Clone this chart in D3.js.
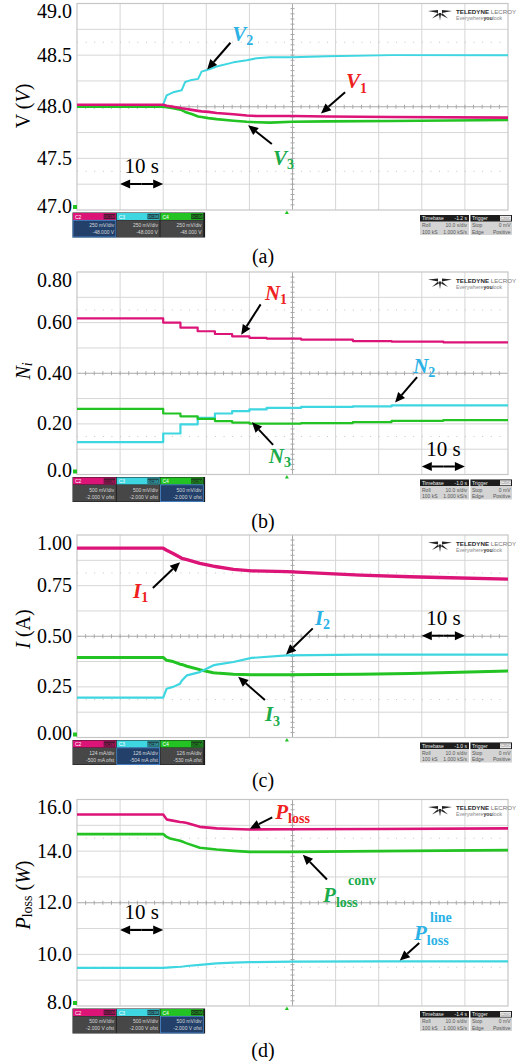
<!DOCTYPE html>
<html><head><meta charset="utf-8">
<script src="https://cdn.jsdelivr.net/npm/d3@7"></script>
<style>
body{margin:0;background:#fff}
svg{display:block}
</style>
</head><body><script>
// ---------------- data ----------------
// time axis: 10 s/div, 10 divisions
const timeDomain = [0, 100];
const gridTimes = [10, 20, 30, 40, 50, 60, 70, 80, 90];

// (a) bus voltages
const vTime = [0, 20, 20.8, 22.3, 24.3, 25.1, 26.6, 28.1, 28.9, 30.5, 32.4, 36.3, 39.4, 41.7, 44.8, 50, 58, 73, 100];
const V1 = [48.02, 48.02, 48.01, 48.0, 47.985, 47.98, 47.97, 47.96, 47.955, 47.95, 47.94, 47.927, 47.915, 47.91, 47.91, 47.91, 47.905, 47.9, 47.895];
const V2 = [48.005, 48.02, 48.11, 48.14, 48.16, 48.24, 48.26, 48.27, 48.34, 48.36, 48.39, 48.43, 48.45, 48.47, 48.48, 48.48, 48.49, 48.5, 48.5];
const V3 = [48.0, 48.0, 47.995, 47.985, 47.968, 47.95, 47.93, 47.905, 47.9, 47.89, 47.88, 47.865, 47.855, 47.85, 47.846, 47.855, 47.858, 47.862, 47.872];
const vTicks = [47, 47.5, 48, 48.5, 49];
const vTickLabels = ["47.0", "47.5", "48.0", "48.5", "49.0"];

// (b) sharing coefficients (stepwise)
const nTime = [0, 20, 24, 28, 32, 36, 40, 44, 52, 64, 73, 85, 100];
const N1 = [0.617, 0.600, 0.580, 0.566, 0.555, 0.546, 0.540, 0.537, 0.533, 0.527, 0.525, 0.522, 0.520];
const N2 = [0.128, 0.162, 0.198, 0.224, 0.241, 0.250, 0.257, 0.263, 0.267, 0.269, 0.273, 0.273, 0.273];
const N3 = [0.259, 0.241, 0.230, 0.220, 0.211, 0.205, 0.201, 0.201, 0.203, 0.207, 0.212, 0.215, 0.216];
const nTicks = [0, 0.2, 0.4, 0.6, 0.8];
const nTickLabels = ["0.0", "0.20", "0.40", "0.60", "0.80"];

// (c) currents
const iTime = [0, 20, 20.8, 22.3, 23.9, 24.3, 25.5, 28.5, 31.6, 32.4, 36.3, 40.5, 48.7, 65.7, 77.3, 84.2, 100];
const I1 = [0.935, 0.935, 0.925, 0.909, 0.89, 0.885, 0.878, 0.86, 0.846, 0.843, 0.83, 0.823, 0.819, 0.802, 0.794, 0.79, 0.782];
const I2 = [0.197, 0.197, 0.241, 0.25, 0.266, 0.28, 0.307, 0.323, 0.356, 0.36, 0.373, 0.393, 0.406, 0.409, 0.409, 0.409, 0.409];
const I3 = [0.395, 0.395, 0.381, 0.375, 0.362, 0.361, 0.352, 0.335, 0.32, 0.318, 0.312, 0.31, 0.31, 0.312, 0.316, 0.32, 0.328];
const iTicks = [0, 0.25, 0.5, 0.75, 1.0];
const iTickLabels = ["0.00", "0.25", "0.50", "0.75", "1.00"];

// (d) losses
const pTime = [0, 20, 20.8, 21.6, 23.9, 24.6, 25.5, 28.5, 32.4, 36.3, 40.1, 50, 70, 100];
const Ploss = [15.42, 15.42, 15.23, 15.2, 15.13, 15.12, 15.09, 14.94, 14.88, 14.86, 14.84, 14.85, 14.86, 14.88];
const Pconv = [14.66, 14.66, 14.55, 14.49, 14.4, 14.36, 14.3, 14.13, 14.06, 14.01, 13.97, 13.97, 14.0, 14.04];
const Pline = [9.48, 9.48, 9.49, 9.5, 9.52, 9.53, 9.55, 9.59, 9.65, 9.68, 9.70, 9.72, 9.73, 9.73];
const pTicks = [8, 10, 12, 14, 16];
const pTickLabels = ["8.0", "10.0", "12.0", "14.0", "16.0"];

// scope channel info
const chNames = ["C2", "C3", "C4"];
const chInfoA = [["250 mV/div", "-48.000 V"], ["250 mV/div", "-48.000 V"], ["250 mV/div", "-48.000 V"]];
const chInfoB = [["500 mV/div", "-2.000 V ofst"], ["500 mV/div", "-2.000 V ofst"], ["500 mV/div", "-2.000 V ofst"]];
const chInfoC = [["124 mA/div", "-500 mA ofst"], ["126 mA/div", "-504 mA ofst"], ["126 mA/div", "-530 mA ofst"]];
const chInfoD = [["500 mV/div", "-2.000 V ofst"], ["500 mV/div", "-2.000 V ofst"], ["500 mV/div", "-2.000 V ofst"]];
const timebaseVals = ["-1.2 s", "-1.0 s", "-1.0 s", "-1.4 s"];
const captions = ["(a)", "(b)", "(c)", "(d)"];

// ---------------- style ----------------
const MAG = "#dc1478", CYA = "#3ed6e0", GRN = "#22c322";
const RED = "#ee2020", BLU = "#2ab2e6", LGR = "#1aab4b";
const SERIF = '"Liberation Serif","Times New Roman",serif';
const SANS = '"Liberation Sans",Arial,sans-serif';

const W = 521, H = 1061;
const svg = d3.select("body").append("svg").attr("width", W).attr("height", H).attr("font-family", SERIF);
const x = d3.scaleLinear().domain(timeDomain).range([77, 508]);
const L = x(timeDomain[0]), R = x(timeDomain[1]);

const defs = svg.append("defs");

function arrow(g, x1, y1, x2, y2) {
  const ang = Math.atan2(y2 - y1, x2 - x1), hl = 10, hw = 4.5;
  const bx = x2 - hl * Math.cos(ang), by = y2 - hl * Math.sin(ang);
  g.append("line").attr("x1", x1).attr("y1", y1).attr("x2", bx).attr("y2", by)
    .attr("stroke", "#000").attr("stroke-width", 2);
  const px = -Math.sin(ang) * hw, py = Math.cos(ang) * hw;
  g.append("path").attr("d", `M${x2},${y2}L${bx + px},${by + py}L${bx - px},${by - py}Z`).attr("fill", "#000");
}
function dblArrow(g, x1, x2, yy) {
  const mid = (x1 + x2) / 2;
  arrow(g, mid, yy, x1, yy);
  arrow(g, mid, yy, x2, yy);
}

function panel(cfg, idx) {
  const y = d3.scaleLinear().domain(cfg.domain).range([cfg.bottom, cfg.top]);
  const T = cfg.top, B = cfg.bottom;
  const divH = (B - T) / 8, divW = (R - L) / 10;
  const g = svg.append("g");

  // grid
  const grid = g.append("g");
  gridTimes.filter(t => t !== 50).forEach(t => {
    grid.append("line").attr("x1", x(t)).attr("x2", x(t)).attr("y1", T).attr("y2", B)
      .attr("stroke", "#d6d6d6").attr("stroke-width", 1);
  });
  d3.range(1, 8).filter(j => j !== 4).forEach(j => {
    grid.append("line").attr("x1", L).attr("x2", R).attr("y1", T + j * divH).attr("y2", T + j * divH)
      .attr("stroke", "#d6d6d6").attr("stroke-width", 1);
  });
  [1.5, 6.5].forEach(j => {
    grid.append("line").attr("x1", L).attr("x2", R).attr("y1", T + j * divH).attr("y2", T + j * divH)
      .attr("stroke", "#c4c4c4").attr("stroke-width", 1).attr("stroke-dasharray", `1,${divW / 5 - 1}`);
  });
  // center cross with minor ticks
  const cx = x(50), cy = T + 4 * divH;
  grid.append("line").attr("x1", cx).attr("x2", cx).attr("y1", T).attr("y2", B).attr("stroke", "#a8a8a8");
  grid.append("line").attr("x1", L).attr("x2", R).attr("y1", cy).attr("y2", cy).attr("stroke", "#a8a8a8");
  d3.range(1, 50).forEach(k => {
    const xx = L + k * divW / 5;
    grid.append("line").attr("x1", xx).attr("x2", xx).attr("y1", cy - 2).attr("y2", cy + 2).attr("stroke", "#a8a8a8");
  });
  d3.range(1, 40).forEach(k => {
    const yy = T + k * divH / 5;
    grid.append("line").attr("x1", cx - 2).attr("x2", cx + 2).attr("y1", yy).attr("y2", yy).attr("stroke", "#a8a8a8");
  });
  grid.append("rect").attr("x", L).attr("y", T).attr("width", R - L).attr("height", B - T)
    .attr("fill", "none").attr("stroke", "#c6c6c6").attr("stroke-width", 1.2);

  // traces
  const clipId = "clip" + idx;
  defs.append("clipPath").attr("id", clipId).append("rect").attr("x", L).attr("y", T).attr("width", R - L).attr("height", B - T);
  const tg = g.append("g").attr("clip-path", `url(#${clipId})`);
  cfg.series.forEach(s => {
    const line = d3.line().x((d, i) => x(s.t[i])).y(d => y(d)).curve(s.curve || d3.curveLinear);
    tg.append("path").attr("d", line(s.v)).attr("fill", "none").attr("stroke", s.color)
      .attr("stroke-width", s.w || 2.4).attr("stroke-linejoin", "round");
  });

  // ground marker (left) and trigger marker (bottom)
  g.append("rect").attr("x", L - 4).attr("y", B - 5).attr("width", 4).attr("height", 4).attr("fill", GRN);
  const tx = x(48.7);
  g.append("path").attr("d", `M${tx},${B + 0.5}L${tx - 2},${B + 4}L${tx + 2},${B + 4}Z`).attr("fill", GRN);

  // y axis
  const ax = d3.axisLeft(y).tickValues(cfg.ticks).tickFormat((d, i) => cfg.tickLabels[i]).tickSize(0).tickPadding(5);
  const ag = g.append("g").attr("transform", `translate(${L},0)`).call(ax);
  ag.select(".domain").remove();
  ag.attr("font-family", SERIF);
  ag.selectAll(".tick").attr("transform", d => `translate(0,${Math.min(Math.max(y(d), T + 8.5), B - 3.5)})`);
  ag.selectAll("text").attr("font-size", 20).attr("font-family", SERIF).attr("fill", "#000");

  // y label
  const yl = g.append("text").attr("transform", `translate(23,${cfg.ylabelY}) rotate(-90)`)
    .attr("text-anchor", "middle").attr("dominant-baseline", "central").attr("font-size", 20).attr("fill", "#000");
  cfg.ylabel(yl);

  // series labels + arrows
  cfg.labels.forEach(lb => {
    const px = x(lb.at[0]), py = y(lb.at[1]);
    const t = g.append("text").attr("x", px).attr("y", py).attr("fill", lb.color)
      .attr("font-weight", "bold").attr("font-size", 21);
    t.append("tspan").attr("font-style", "italic").text(lb.main);
    t.append("tspan").attr("font-size", 14).attr("dy", 4.5).text(lb.sub);
    if (lb.sup) {
      g.append("text").attr("x", px + lb.sup[1]).attr("y", py + lb.sup[2]).attr("fill", lb.color)
        .attr("font-weight", "bold").attr("font-size", 14).text(lb.sup[0]);
    }
    arrow(g, x(lb.from[0]), y(lb.from[1]), x(lb.to[0]), y(lb.to[1]));
  });

  // 10 s marker
  const tsY = cfg.tenS.y;
  g.append("text").attr("x", x(cfg.tenS.t0 + 5)).attr("y", tsY - 11).attr("text-anchor", "middle")
    .attr("font-size", 21).attr("fill", "#000").text("10 s");
  dblArrow(g, x(cfg.tenS.t0), x(cfg.tenS.t0 + 10), tsY);

  // channel boxes
  const cb = g.append("g").attr("font-family", SANS);
  const cols = [MAG, CYA, GRN];
  const bw = 43.7, by0 = B + 3;
  cb.append("rect").attr("x", 72.5).attr("y", by0 - 0.5).attr("width", 3 * bw + 1.5).attr("height", 25).attr("fill", "#1b1b1b");
  cfg.chInfo.forEach((info, i) => {
    const bx = 73 + i * bw;
    const hi = i === cfg.active;
    cb.append("rect").attr("x", bx).attr("y", by0).attr("width", bw - 0.8).attr("height", 7).attr("fill", cols[i]);
    cb.append("rect").attr("x", bx + bw - 13).attr("y", by0 + 0.8).attr("width", 11.5).attr("height", 5.4).attr("fill", "#1a1a1a").attr("opacity", 0.75);
    cb.append("text").attr("x", bx + 2).attr("y", by0 + 5.5).attr("font-size", 5).attr("fill", "#fff").text(chNames[i]);
    cb.append("text").attr("x", bx + bw - 7.3).attr("y", by0 + 5.3).attr("font-size", 3.8).attr("text-anchor", "middle").attr("fill", cols[i]).text("DC1M");
    cb.append("rect").attr("x", bx).attr("y", by0 + 7.3).attr("width", bw - 0.8).attr("height", 16.7)
      .attr("fill", hi ? "#22406a" : "#474747").attr("stroke", hi ? "#4d8fd6" : "none").attr("stroke-width", 0.8);
    cb.append("text").attr("x", bx + bw - 2.5).attr("y", by0 + 14).attr("font-size", 5).attr("text-anchor", "end").attr("fill", "#d8d8d8").text(info[0]);
    cb.append("text").attr("x", bx + bw - 2.5).attr("y", by0 + 21).attr("font-size", 5).attr("text-anchor", "end").attr("fill", "#d8d8d8").text(info[1]);
  });

  // timebase / trigger box
  const tb = g.append("g").attr("font-family", SANS).attr("font-size", 5);
  const ty0 = B + 5;
  tb.append("rect").attr("x", 420).attr("y", ty0).attr("width", 49).attr("height", 20).attr("fill", "#d4d4d4");
  tb.append("rect").attr("x", 420).attr("y", ty0).attr("width", 49).attr("height", 6.5).attr("fill", "#1d1d1d");
  tb.append("rect").attr("x", 470.5).attr("y", ty0).attr("width", 41.5).attr("height", 20).attr("fill", "#d4d4d4");
  tb.append("rect").attr("x", 470.5).attr("y", ty0).attr("width", 41.5).attr("height", 6.5).attr("fill", "#1d1d1d");
  tb.append("rect").attr("x", 500).attr("y", ty0 + 0.8).attr("width", 11).attr("height", 5).attr("fill", "#e8e8e8");
  tb.append("text").attr("x", 422).attr("y", ty0 + 5).attr("fill", "#eee").text("Timebase");
  tb.append("text").attr("x", 467).attr("y", ty0 + 5).attr("text-anchor", "end").attr("fill", "#eee").text(cfg.timebase);
  tb.append("text").attr("x", 472).attr("y", ty0 + 5).attr("fill", "#eee").text("Trigger");
  tb.append("text").attr("x", 505.5).attr("y", ty0 + 4.8).attr("text-anchor", "middle").attr("font-size", 3.8).attr("fill", "#777").text("C2DC");
  [["Roll", "10.0 s/div", "Stop", "0 mV"], ["100 kS", "1.000 kS/s", "Edge", "Positive"]].forEach((r, k) => {
    const yy = ty0 + 12 + k * 6.5;
    tb.append("text").attr("x", 422).attr("y", yy).attr("fill", "#555").text(r[0]);
    tb.append("text").attr("x", 467).attr("y", yy).attr("text-anchor", "end").attr("fill", "#555").text(r[1]);
    tb.append("text").attr("x", 472).attr("y", yy).attr("fill", "#555").text(r[2]);
    tb.append("text").attr("x", 510.5).attr("y", yy).attr("text-anchor", "end").attr("fill", "#555").text(r[3]);
  });

  // Teledyne LeCroy logo
  const lg = g.append("g").attr("transform", `translate(428,${T + 5})`);
  [[[0, 2.5], [10, 1.5], [10, 4.5]], [[24, 2.5], [14, 1.5], [14, 4.5]], [[4, 10], [10, 4.5], [11, 6.5]],
   [[20, 10], [14, 4.5], [13, 6.5]], [[10.8, 4.5], [13.2, 4.5], [12, 12]]].forEach(p => {
    lg.append("path").attr("d", "M" + p.map(q => q.join(",")).join("L") + "Z").attr("fill", "#222");
  });
  lg.append("text").attr("x", 28).attr("y", 5.5).attr("font-family", SANS).attr("font-size", 6.2).attr("font-weight", "bold").attr("fill", "#2a2a2a")
    .text("TELEDYNE").append("tspan").attr("font-weight", "normal").attr("fill", "#777").text(" LECROY");
  const ev = lg.append("text").attr("x", 28).attr("y", 11.5).attr("font-family", SANS).attr("font-size", 5.2).attr("fill", "#888");
  ev.append("tspan").text("Everywhere");
  ev.append("tspan").attr("font-weight", "bold").attr("fill", "#333").text("you");
  ev.append("tspan").text("look");

  // caption
  g.append("text").attr("x", 263).attr("y", B + cfg.capDy).attr("text-anchor", "middle")
    .attr("dominant-baseline", "central").attr("font-size", 20).attr("fill", "#000").text(captions[idx]);
}

const panels = [
  {
    top: 3.5, bottom: 210, domain: [47, 49], ticks: vTicks, tickLabels: vTickLabels, ylabelY: 106,
    ylabel: t => { t.append("tspan").text("V ("); t.append("tspan").attr("font-style", "italic").text("V"); t.append("tspan").text(")"); },
    series: [
      { t: vTime, v: V2, color: CYA, w: 2.0 },
      { t: vTime, v: V3, color: GRN, w: 2.6 },
      { t: vTime, v: V1, color: MAG, w: 2.6 }
    ],
    labels: [
      { main: "V", sub: "2", color: BLU, at: [36, 48.64], from: [35.6, 48.62], to: [30.2, 48.36] },
      { main: "V", sub: "1", color: RED, at: [62.4, 48.18], from: [62.2, 48.14], to: [56.6, 47.935] },
      { main: "V", sub: "3", color: LGR, at: [45.5, 47.44], from: [45.2, 47.64], to: [39.7, 47.82] }
    ],
    tenS: { t0: 10, y: 184 }, chInfo: chInfoA, active: 0, timebase: timebaseVals[0], capDy: 46
  },
  {
    top: 272, bottom: 474.5, domain: [0, 0.8], ticks: nTicks, tickLabels: nTickLabels, ylabelY: 371,
    ylabel: t => { t.append("tspan").attr("font-style", "italic").text("N"); t.append("tspan").attr("font-style", "italic").attr("font-size", 14).attr("dy", 4).text("i"); },
    series: [
      { t: nTime, v: N1, color: MAG, curve: d3.curveStepAfter, w: 2.2 },
      { t: nTime, v: N2, color: CYA, curve: d3.curveStepAfter, w: 2.2 },
      { t: nTime, v: N3, color: GRN, curve: d3.curveStepAfter, w: 2.2 }
    ],
    labels: [
      { main: "N", sub: "1", color: RED, at: [43.6, 0.69], from: [42.6, 0.672], to: [38.1, 0.552] },
      { main: "N", sub: "2", color: BLU, at: [78, 0.402], from: [78.9, 0.385], to: [73.8, 0.284] },
      { main: "N", sub: "3", color: LGR, at: [44.5, 0.046], from: [45.5, 0.117], to: [40.6, 0.206] }
    ],
    tenS: { t0: 80, y: 466.5 }, chInfo: chInfoB, active: 2, timebase: timebaseVals[1], capDy: 46
  },
  {
    top: 535, bottom: 737.5, domain: [0, 1], ticks: iTicks, tickLabels: iTickLabels, ylabelY: 629,
    ylabel: t => { t.append("tspan").attr("font-style", "italic").text("I"); t.append("tspan").text(" (A)"); },
    series: [
      { t: iTime, v: I1, color: MAG, w: 3.4 },
      { t: iTime, v: I3, color: GRN, w: 3.0 },
      { t: iTime, v: I2, color: CYA, w: 2.2 }
    ],
    labels: [
      { main: "I", sub: "1", color: RED, at: [13, 0.69], from: [17.6, 0.738], to: [23.9, 0.866] },
      { main: "I", sub: "2", color: BLU, at: [55.2, 0.556], from: [54.7, 0.539], to: [48.5, 0.41] },
      { main: "I", sub: "3", color: LGR, at: [43.6, 0.081], from: [43.6, 0.185], to: [37.4, 0.3] }
    ],
    tenS: { t0: 80, y: 635.7 }, chInfo: chInfoC, active: 1, timebase: timebaseVals[2], capDy: 42
  },
  {
    top: 799.5, bottom: 1006, domain: [8, 16], ticks: pTicks, tickLabels: pTickLabels, ylabelY: 895,
    ylabel: t => {
      t.append("tspan").attr("font-style", "italic").text("P");
      t.append("tspan").attr("font-size", 14).attr("dy", 4).text("loss");
      t.append("tspan").attr("dy", -4).text(" (");
      t.append("tspan").attr("font-style", "italic").text("W");
      t.append("tspan").text(")");
    },
    series: [
      { t: pTime, v: Ploss, color: MAG, w: 2.6 },
      { t: pTime, v: Pconv, color: GRN, w: 2.6 },
      { t: pTime, v: Pline, color: CYA, w: 2.2 }
    ],
    labels: [
      { main: "P", sub: "loss", color: RED, at: [46, 15.25], from: [45.3, 15.31], to: [40.1, 14.87] },
      { main: "P", sub: "loss", color: LGR, at: [57.1, 12.02], sup: ["conv", 25, -17], from: [58, 12.9], to: [52.4, 13.86] },
      { main: "P", sub: "loss", color: BLU, at: [78.2, 10.55], sup: ["line", 16, -18], from: [79.4, 10.44], to: [74.9, 9.76] }
    ],
    tenS: { t0: 10, y: 930 }, chInfo: chInfoD, active: 2, timebase: timebaseVals[3], capDy: 44
  }
];

panels.forEach((p, i) => panel(p, i));
</script></body></html>
